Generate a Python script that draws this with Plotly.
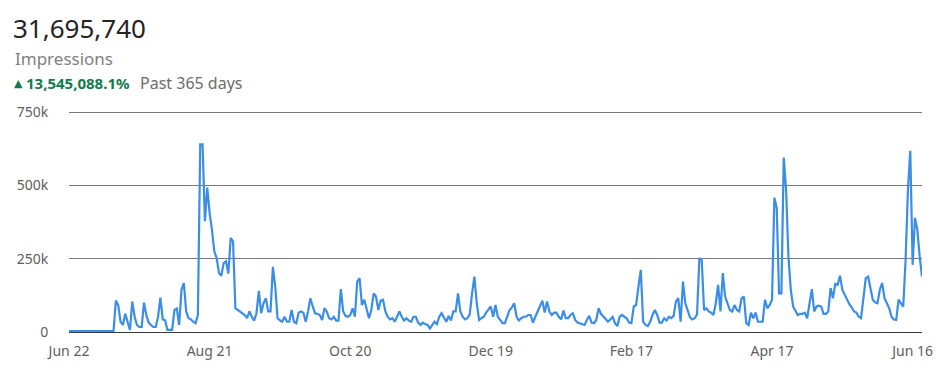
import pandas as pd
import plotly.graph_objects as go

# ---------------- data ----------------
start_date = "2023-06-22"
impressions_k = [
    3, 3, 3, 3, 3, 3, 3, 3, 3, 3, 3, 3, 3, 3, 3, 3, 3, 3, 3, 3,
    107, 92, 35, 24, 62, 30, 7, 104, 52, 24,
    17, 17, 100, 58, 32, 24, 17, 17, 52, 117,
    43, 40, 7, 7, 7, 75, 80, 24, 144, 167,
    70, 47, 43, 35, 30, 58, 640, 640, 378, 492,
    406, 349, 275, 252, 201, 192, 235, 241, 199, 321,
    309, 81, 75, 70, 66, 58, 47, 70, 52, 39,
    64, 140, 64, 98, 115, 70, 70, 222, 155, 47,
    40, 35, 52, 35, 35, 75, 35, 30, 66, 70,
    66, 35, 70, 115, 87, 64, 62, 58, 41, 81,
    70, 47, 43, 52, 39, 39, 146, 70, 55, 52,
    58, 81, 52, 172, 184, 92, 110, 81, 47, 75,
    132, 121, 75, 107, 110, 70, 52, 43, 47, 35,
    50, 70, 52, 39, 47, 39, 35, 52, 52, 32,
    24, 32, 27, 24, 12, 24, 35, 27, 52, 64,
    47, 35, 55, 39, 70, 70, 132, 70, 52, 43,
    47, 60, 132, 189, 98, 41, 47, 52, 66, 75,
    87, 52, 92, 52, 40, 30, 30, 52, 75, 84,
    98, 52, 39, 47, 52, 52, 58, 58, 32, 52,
    70, 87, 107, 66, 104, 70, 58, 66, 66, 52,
    43, 73, 47, 47, 58, 64, 41, 32, 30, 27,
    24, 41, 55, 32, 30, 41, 81, 62, 52, 45,
    35, 43, 52, 30, 20, 52, 58, 52, 47, 32,
    30, 87, 92, 155, 212, 35, 24, 20, 35, 58,
    75, 58, 32, 32, 47, 39, 52, 47, 55, 104,
    115, 35, 172, 98, 70, 50, 43, 47, 60, 252,
    245, 75, 81, 70, 66, 58, 98, 161, 70, 201,
    121, 98, 75, 70, 92, 75, 70, 115, 121, 30,
    24, 66, 47, 66, 35, 35, 35, 110, 81, 92,
    110, 458, 424, 132, 132, 595, 486, 258, 144, 87,
    70, 58, 62, 62, 66, 47, 98, 146, 70, 87,
    90, 87, 62, 62, 70, 150, 115, 164, 161, 192,
    144, 127, 110, 95, 84, 70, 66, 52, 47, 110,
    184, 189, 144, 110, 101, 98, 144, 167, 115, 98,
    81, 52, 43, 41, 110, 98, 87, 247, 486, 618,
    229, 389, 349, 258, 189,
]
dates = pd.date_range(start_date, periods=len(impressions_k), freq="D")
impressions = [v * 1000 for v in impressions_k]

x_tick_dates = ["2023-06-22", "2023-08-21", "2023-10-20", "2023-12-19",
                "2024-02-17", "2024-04-17", "2024-06-16"]
x_tick_labels = ["Jun 22", "Aug 21", "Oct 20", "Dec 19", "Feb 17", "Apr 17", "Jun 16"]
y_tick_vals = [0, 250000, 500000, 750000]
y_tick_labels = ["0", "250k", "500k", "750k"]
y_max = 750000

total_value = "31,695,740"
metric_name = "Impressions"
change_text = "13,545,088.1%"
period_text = "Past 365 days"

# ---------------- layout ----------------
W, H = 948, 376
L, R, T, B = 69, 26, 110, 44
PW, PH = W - L - R, H - T - B
# keep the top gridline 2px inside the plotting area so it is drawn
y_top = y_max * PH / (PH - 2)
FONT = "Noto Sans, Open Sans, DejaVu Sans, sans-serif"
GRAY = "#605e5c"
LIGHT = "#82807e"
DARK = "#252423"
GREEN = "#127a50"
BLUE = "#3a8ee8"


def px_x(px):
    return (px - L) / PW


def px_y(py):
    return (H - B - py) / PH


fig = go.Figure(
    go.Scatter(
        x=dates,
        y=impressions,
        mode="lines",
        line=dict(color=BLUE, width=2.2),
        hoverinfo="skip",
    )
)

fig.update_layout(
    width=W,
    height=H,
    margin=dict(l=L, r=R, t=T, b=B, pad=0),
    paper_bgcolor="white",
    plot_bgcolor="white",
    showlegend=False,
    font=dict(family=FONT, color=GRAY, size=14),
)

fig.update_xaxes(
    range=[dates[0], dates[-1]],
    tickmode="array",
    tickvals=x_tick_dates,
    ticktext=x_tick_labels,
    showgrid=False,
    zeroline=False,
    showline=True,
    linecolor="#3b3a39",
    linewidth=1,
    ticks="outside",
    ticklen=6,
    tickcolor="rgba(0,0,0,0)",
    tickfont=dict(family=FONT, size=14, color=GRAY),
)

fig.update_yaxes(
    range=[0, y_top],
    tickmode="array",
    tickvals=y_tick_vals,
    ticktext=y_tick_labels,
    showgrid=True,
    gridcolor="#7a7a7a",
    gridwidth=1,
    zeroline=False,
    showline=False,
    ticks="outside",
    ticklen=17,
    tickcolor="rgba(0,0,0,0)",
    tickfont=dict(family=FONT, size=14, color=GRAY),
)

annotations = [
    dict(text=total_value, x=px_x(12), y=px_y(28), font=dict(size=26, color=DARK)),
    dict(text=metric_name, x=px_x(14), y=px_y(59), font=dict(size=17, color=LIGHT)),
    dict(text="▲", x=px_x(13), y=px_y(83), font=dict(size=11, color=GREEN)),
    dict(text="<b>" + change_text + "</b>", x=px_x(25), y=px_y(83),
         font=dict(size=15, color=GREEN)),
    dict(text=period_text, x=px_x(139), y=px_y(83), font=dict(size=16, color="#6e6c6a")),
]
for a in annotations:
    a.update(xref="paper", yref="paper", xanchor="left", yanchor="middle",
             showarrow=False, borderpad=0)
    a["font"]["family"] = FONT
fig.update_layout(annotations=annotations)

fig.write_html("out.html")
